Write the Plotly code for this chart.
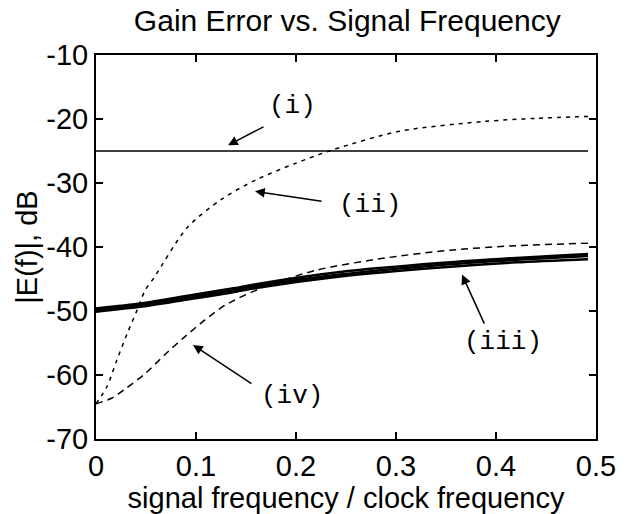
import plotly.graph_objects as go

# ---- data ----
x_i = [0.0, 0.492]
y_i = [-25.0, -25.0]

x_ii = [0.0, 0.011, 0.021, 0.031, 0.041, 0.049, 0.058, 0.091, 0.125, 0.16, 0.2, 0.237, 0.304, 0.387, 0.44, 0.492]
y_ii = [-64.5, -61.8, -57.6, -53.6, -49.9, -46.8, -44.8, -37.0, -32.6, -29.5, -26.9, -24.8, -21.9, -20.4, -19.9, -19.6]

x_iii = [0.0, 0.046, 0.096, 0.136, 0.16, 0.244, 0.344, 0.42, 0.492]
y_iii_a = [-49.8, -49.0, -47.8, -46.8, -46.1, -44.3, -42.8, -42.0, -41.4]
y_iii_b = [-50.1, -49.3, -48.1, -47.1, -46.4, -44.6, -43.2, -42.4, -41.9]
y_iii_c = [-49.6, -48.8, -47.5, -46.5, -45.8, -43.9, -42.5, -41.7, -41.1]

x_iv = [0.0, 0.016, 0.029, 0.049, 0.069, 0.089, 0.109, 0.129, 0.167, 0.221, 0.29, 0.354, 0.42, 0.492]
y_iv = [-64.5, -63.6, -62.2, -59.8, -56.8, -54.0, -51.4, -49.1, -46.3, -43.6, -41.7, -40.5, -39.8, -39.4]

x_ticks = [0, 0.1, 0.2, 0.3, 0.4, 0.5]
x_ticktext = ["0", "0.1", "0.2", "0.3", "0.4", "0.5"]
y_ticks = [-70, -60, -50, -40, -30, -20, -10]
y_ticktext = ["-70", "-60", "-50", "-40", "-30", "-20", "-10"]

fig = go.Figure()
fig.add_trace(go.Scatter(x=x_i, y=y_i, mode="lines", line=dict(color="black", width=1.5)))
fig.add_trace(go.Scatter(x=x_ii, y=y_ii, mode="lines", line=dict(color="black", width=1.5, dash="4px,5px", shape="spline", smoothing=0.8)))
for yy in (y_iii_a, y_iii_b, y_iii_c):
    fig.add_trace(go.Scatter(x=x_iii, y=yy, mode="lines", line=dict(color="black", width=2.5, shape="spline", smoothing=0.8)))
fig.add_trace(go.Scatter(x=x_iv, y=y_iv, mode="lines", line=dict(color="black", width=1.5, dash="7px,5px", shape="spline", smoothing=0.8)))

mono = dict(family="Liberation Mono, Courier New, monospace", size=26, color="black")
labels = [("(i)", 0.196, -18.0), ("(ii)", 0.274, -33.5), ("(iii)", 0.407, -54.8), ("(iv)", 0.196, -63.3)]
arrows = [(0.132, -24.1, 0.169, -21.1), (0.159, -31.3, 0.227, -32.9),
          (0.366, -44.3, 0.389, -52.2), (0.097, -55.3, 0.157, -61.5)]
for t, xx, yy in labels:
    fig.add_annotation(x=xx, y=yy, text=t, showarrow=False, font=mono, xanchor="center", yanchor="middle")
for hx, hy, tx, ty in arrows:
    fig.add_annotation(x=hx, y=hy, ax=tx, ay=ty, axref="x", ayref="y", text="", showarrow=True,
                       arrowhead=2, arrowsize=1.3, arrowwidth=1.5, arrowcolor="black", standoff=0)

font_main = "Liberation Sans, Arial, Helvetica, sans-serif"
fig.update_layout(
    width=628, height=514,
    margin=dict(l=96, r=30, t=55, b=71),
    paper_bgcolor="white", plot_bgcolor="white",
    showlegend=False,
    font=dict(family=font_main, size=29, color="black"),
    title=dict(text="Gain Error vs. Signal Frequency", x=0.553, xanchor="center",
               y=0.96, yanchor="middle", yref="container", font=dict(size=30)),
)
fig.update_xaxes(range=[0, 0.5], tickvals=x_ticks, ticktext=x_ticktext, ticks="inside", ticklen=7,
                 showgrid=False, zeroline=False, showline=True, linecolor="black", linewidth=2,
                 mirror="ticks", tickcolor="black", tickwidth=1.5,
                 title=dict(text="signal frequency / clock frequency", standoff=0, font=dict(size=29)),
                 tickfont=dict(size=29))
fig.update_yaxes(range=[-70, -10], tickvals=y_ticks, ticktext=y_ticktext, ticks="inside", ticklen=7,
                 showgrid=False, zeroline=False, showline=True, linecolor="black", linewidth=2,
                 mirror="ticks", tickcolor="black", tickwidth=1.5,
                 title=dict(text="|E(f)|, dB", standoff=0, font=dict(size=29)),
                 tickfont=dict(size=29), ticklabelstandoff=0)

fig.write_html("out.html")
